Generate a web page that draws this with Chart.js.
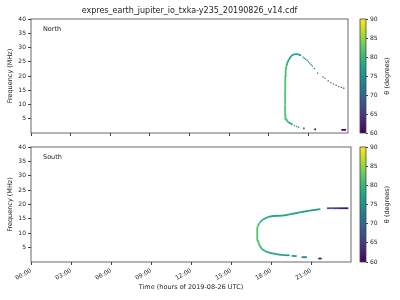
<!DOCTYPE html>
<html>
<head>
<meta charset="utf-8">
<script src="https://cdn.jsdelivr.net/npm/chart.js@4.4.1/dist/chart.umd.min.js"></script>
<style>
html, body { margin: 0; padding: 0; background: #fff; }
#wrap { position: relative; width: 400px; height: 300px; overflow: hidden; }
canvas { position: absolute; }
</style>
</head>
<body>
<div id="wrap">
    <canvas id="north" width="352" height="140" style="left:0;top:0"></canvas>
    <canvas id="northBar" width="46" height="140" style="left:354px;top:0"></canvas>
    <canvas id="south" width="352" height="160" style="left:0;top:140px"></canvas>
    <canvas id="southBar" width="46" height="160" style="left:354px;top:140px"></canvas>
</div>
<script>
// ticks
const hourTicks = [0, 3, 6, 9, 12, 15, 18, 21];
const freqTicks = [5, 10, 15, 20, 25, 30, 35, 40];
const thetaTicks = [60, 65, 70, 75, 80, 85, 90];

// North: continuous arc + short dashes (null = break)
const northLineTime  = [19.8, 19.63, 19.48, 19.38, 19.3, 19.26, 19.24, 19.24, 19.25, 19.28, 19.33, 19.42, 19.55, 19.7, 19.85, 20.05, 20.25, 20.45, null, 20.6, 20.72, null, 21.45, 21.58, null, 23.5, 23.85];
const northLineFreq  = [2.9, 3.4, 3.8, 4.3, 5.0, 6.5, 10, 15, 20, 22, 23.3, 24.8, 26.0, 27.0, 27.5, 27.7, 27.6, 27.2, null, 1.6, 1.6, null, 1.3, 1.3, null, 1.1, 1.1];
const northLineTheta = [76.5, 77, 78, 79, 80.5, 81.5, 82, 82, 81.5, 81, 80, 79, 78, 77.5, 77, 76.5, 76, 75, null, 67, 67, null, 61, 61, null, 60, 60];

// North: isolated dots
const northDotTime  = [20.6, 20.7, 20.8, 20.9, 21.0, 21.1, 21.2, 21.3, 21.45, 21.7, 22.1, 22.25, 22.5, 22.7, 22.9, 23.1, 23.3, 23.5, 23.68, 19.95, 20.1, 20.25];
const northDotFreq  = [26.6, 26.2, 25.9, 25.5, 25.0, 24.5, 24.0, 23.5, 22.6, 21.0, 19.7, 19.2, 18.3, 17.7, 17.2, 16.7, 16.3, 16.0, 15.7, 2.6, 2.3, 2.0];
const northDotTheta = [74, 74, 73.5, 73, 73, 72.5, 72.5, 72, 72, 71.5, 71, 71, 70.5, 70.5, 70, 70, 70, 69.5, 69.5, 75, 73.5, 72];

// South: continuous arc + dashes + upper right branch
const southLineTime  = [19.4, 19.0, 18.6, 18.2, 17.85, 17.55, 17.3, 17.12, 17.0, 16.95, 16.99, 17.15, 17.4, 17.75, 18.15, 18.9, 19.4, 20.15, 20.9, 21.7, null, 19.55, 19.93, null, 20.3, 20.68, null, 21.55, 21.8, null, 22.2, 22.6, 23.0, 23.4, 23.8];
const southLineFreq  = [2.3, 2.4, 2.6, 2.9, 3.3, 3.8, 4.6, 5.9, 7.7, 10.0, 12.3, 13.7, 14.8, 15.6, 16.0, 16.1, 16.6, 17.3, 17.9, 18.4, null, 2.1, 2.05, null, 1.7, 1.65, null, 1.2, 1.2, null, 18.7, 18.7, 18.7, 18.7, 18.7];
const southLineTheta = [76.5, 77, 77.5, 77.5, 78, 79, 80, 81, 81.5, 82, 81.5, 80.5, 79.5, 78.5, 78, 77.5, 77.5, 77, 76.5, 76, null, 76, 75.5, null, 74, 73, null, 62, 62, null, 70, 67, 64, 62, 61];

const VIRIDIS = ['#440154', '#482475', '#414487', '#355f8d', '#2a788e', '#21918c', '#22a884', '#44bf70', '#7ad151', '#bddf26', '#fde725'];

function hex(c) {
    return [parseInt(c.slice(1, 3), 16), parseInt(c.slice(3, 5), 16), parseInt(c.slice(5, 7), 16)];
}
function viridis(theta) {
    let f = (theta - 60) / 30;
    f = Math.max(0, Math.min(1, f));
    const p = f * 10;
    const i = Math.min(9, Math.floor(p));
    const t = p - i;
    const a = hex(VIRIDIS[i]), b = hex(VIRIDIS[i + 1]);
    const m = a.map((v, k) => Math.round(v + (b[k] - v) * t));
    return `rgb(${m[0]},${m[1]},${m[2]})`;
}

Chart.defaults.font.family = '"DejaVu Sans", sans-serif';
Chart.defaults.color = '#222';
Chart.defaults.animation = false;

const frame = {
    id: 'frame',
    afterDraw(chart) {
        const { ctx, chartArea: a } = chart;
        ctx.save();
        ctx.strokeStyle = '#444';
        ctx.lineWidth = 0.8;
        ctx.strokeRect(a.left, a.top, a.right - a.left, a.bottom - a.top);
        ctx.restore();
    }
};

const panelLabel = {
    id: 'panelLabel',
    afterDraw(chart, args, opts) {
        const { ctx, chartArea: a } = chart;
        ctx.save();
        ctx.font = '6.5px "DejaVu Sans"';
        ctx.fillStyle = '#222';
        ctx.textBaseline = 'middle';
        ctx.fillText(opts.text, a.left + 12, a.top + 10);
        ctx.restore();
    }
};

const barTitle = {
    id: 'barTitle',
    afterDraw(chart) {
        const { ctx, chartArea: a } = chart;
        ctx.save();
        ctx.translate(a.right + 21.5, (a.top + a.bottom) / 2);
        ctx.rotate(-Math.PI / 2);
        ctx.font = '6.5px "DejaVu Sans"';
        ctx.fillStyle = '#222';
        ctx.textAlign = 'center';
        ctx.textBaseline = 'middle';
        ctx.fillText('θ (degrees)', 0, 0);
        ctx.restore();
    }
};

function lineSet(time, freq, theta) {
    return {
        showLine: true,
        data: time.map((t, i) => ({ x: t, y: freq[i] })),
        pointRadius: 0,
        borderWidth: 1.8,
        borderCapStyle: 'butt',
        segment: {
            borderColor: ctx => viridis((theta[ctx.p0DataIndex] + theta[ctx.p1DataIndex]) / 2)
        }
    };
}

function dotSet(time, freq, theta) {
    return {
        showLine: false,
        data: time.map((t, i) => ({ x: t, y: freq[i] })),
        pointStyle: 'rect',
        pointRadius: 0.9,
        pointBorderWidth: 0,
        pointBackgroundColor: theta.map(viridis)
    };
}

function mainChart(id, datasets, label, isBottom) {
    return new Chart(document.getElementById(id), {
        type: 'scatter',
        data: { datasets },
        options: {
            responsive: false,
            layout: { padding: { top: isBottom ? 7 : 0, right: 1, left: 0, bottom: 0 } },
            plugins: {
                legend: { display: false },
                tooltip: { enabled: false },
                title: {
                    display: !isBottom,
                    text: 'expres_earth_jupiter_io_txka-y235_20190826_v14.cdf',
                    fullSize: false,
                    color: '#222',
                    font: { size: 8, weight: 'normal' },
                    padding: { top: 6.5, bottom: 2.9 }
                },
                panelLabel: { text: label }
            },
            scales: {
                x: {
                    type: 'linear',
                    min: 0,
                    max: 24,
                    afterBuildTicks: s => { s.ticks = hourTicks.map(v => ({ value: v })); },
                    afterFit: s => { s.height = isBottom ? 38 : 7; },
                    ticks: {
                        display: isBottom,
                        minRotation: 30,
                        maxRotation: 30,
                        padding: 2,
                        font: { size: 6 },
                        callback: v => String(v).padStart(2, '0') + ':00'
                    },
                    grid: { drawOnChartArea: false, tickLength: 3, color: '#444' },
                    border: { display: false },
                    title: {
                        display: isBottom,
                        text: 'Time (hours of 2019-08-26 UTC)',
                        font: { size: 6.5 },
                        padding: { top: 0, bottom: 9 }
                    }
                },
                y: {
                    min: 0,
                    max: 40,
                    afterBuildTicks: s => { s.ticks = freqTicks.map(v => ({ value: v })); },
                    afterFit: s => { s.width = 31; },
                    ticks: { font: { size: 6 }, padding: 2 },
                    grid: { drawOnChartArea: false, tickLength: 3, color: '#444' },
                    border: { display: false },
                    title: {
                        display: true,
                        text: 'Frequency (MHz)',
                        font: { size: 6.5 },
                        padding: { top: 6, bottom: 0 }
                    }
                }
            }
        },
        plugins: [frame, panelLabel]
    });
}

function colorBar(id, padTop, padBottom) {
    return new Chart(document.getElementById(id), {
        type: 'bar',
        data: {
            labels: [''],
            datasets: [{
                data: [[60, 90]],
                barPercentage: 1,
                categoryPercentage: 1,
                borderWidth: 0,
                backgroundColor: ctx => {
                    const a = ctx.chart.chartArea;
                    if (!a) return VIRIDIS[5];
                    const g = ctx.chart.ctx.createLinearGradient(0, a.bottom, 0, a.top);
                    VIRIDIS.forEach((c, i) => g.addColorStop(i / 10, c));
                    return g;
                }
            }]
        },
        options: {
            responsive: false,
            layout: { padding: { left: 6, top: padTop, bottom: padBottom, right: 0 } },
            plugins: { legend: { display: false }, tooltip: { enabled: false } },
            scales: {
                x: { display: false },
                y: {
                    position: 'right',
                    min: 60,
                    max: 90,
                    afterBuildTicks: s => { s.ticks = thetaTicks.map(v => ({ value: v })); },
                    afterFit: s => { s.width = 34; },
                    ticks: { font: { size: 6 }, padding: 2 },
                    grid: { drawOnChartArea: false, tickLength: 2, color: '#444' },
                    border: { display: false }
                }
            }
        },
        plugins: [frame, barTitle]
    });
}

mainChart('north', [
    lineSet(northLineTime, northLineFreq, northLineTheta),
    dotSet(northDotTime, northDotFreq, northDotTheta)
], 'North', false);

mainChart('south', [
    lineSet(southLineTime, southLineFreq, southLineTheta)
], 'South', true);

colorBar('northBar', 19, 7);
colorBar('southBar', 7, 38);
</script>
</body>
</html>
